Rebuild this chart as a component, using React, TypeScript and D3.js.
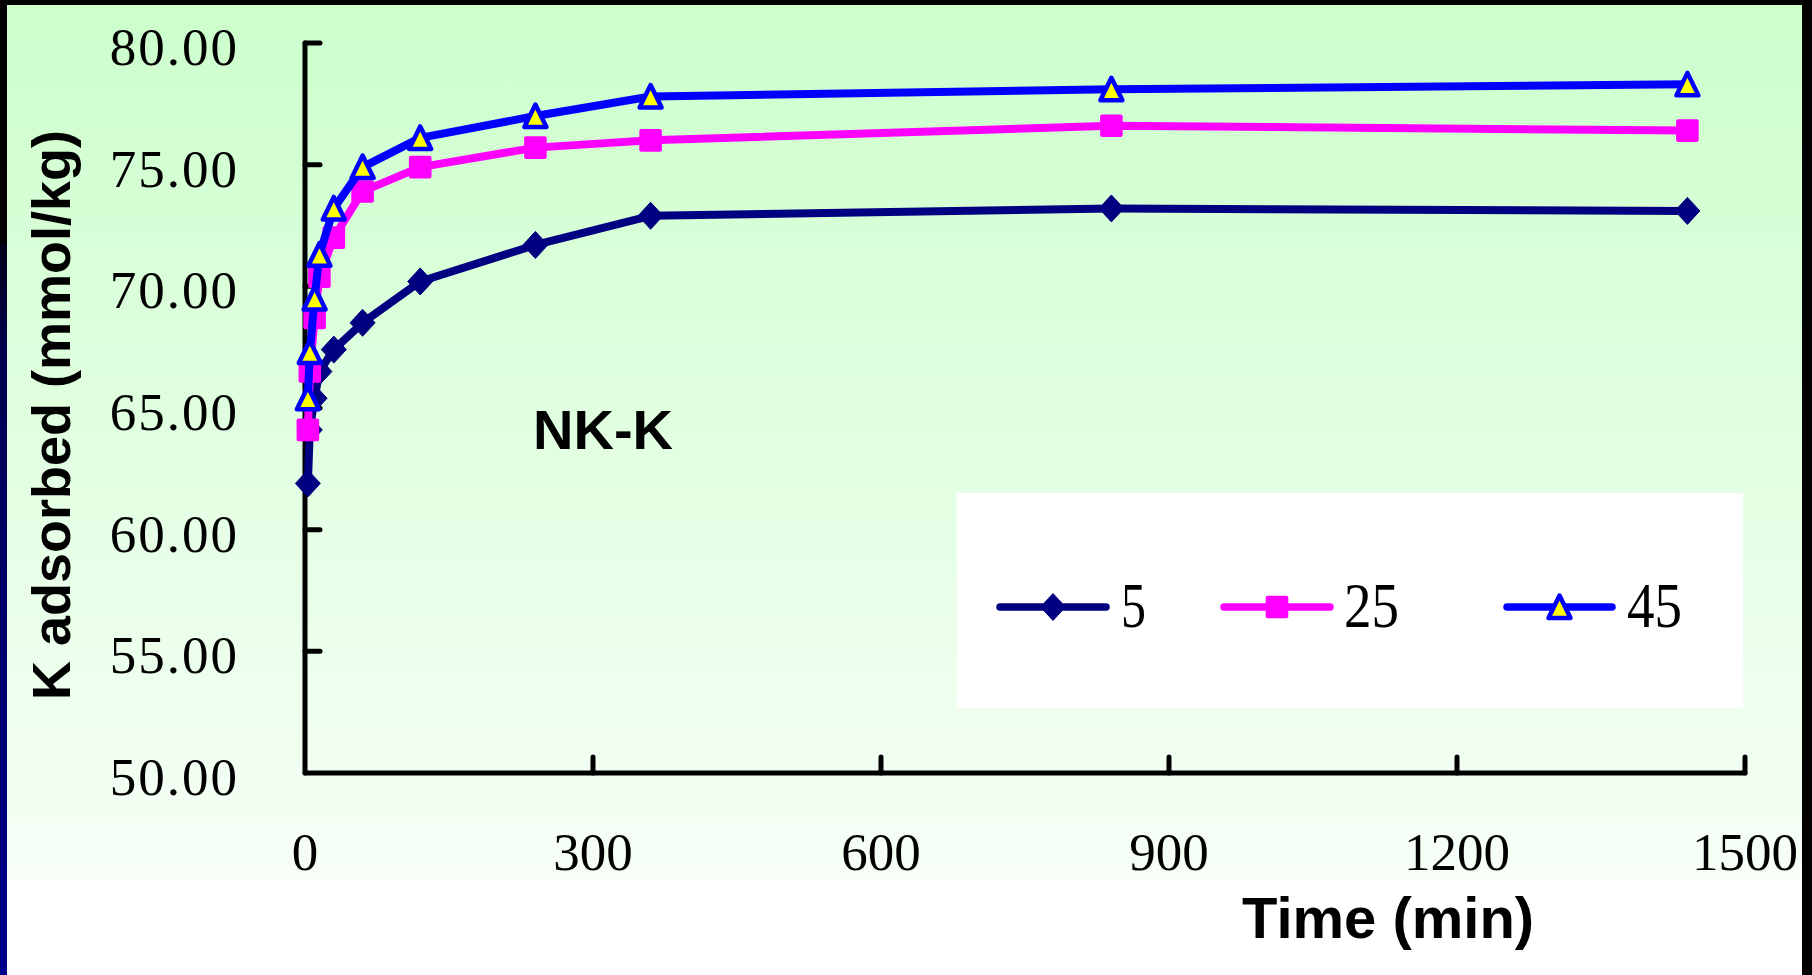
import React from 'react';
import * as d3 from 'd3';

// ---- data ----
const times = [3, 5, 10, 15, 30, 60, 120, 240, 360, 840, 1440];
const k5 = [61.9, 64.1, 65.4, 66.5, 67.4, 68.5, 70.2, 71.7, 72.9, 73.2, 73.1];
const k25 = [64.1, 66.5, 68.7, 70.4, 72.0, 73.9, 74.9, 75.7, 76.0, 76.6, 76.4];
const k45 = [65.4, 67.3, 69.5, 71.3, 73.2, 74.9, 76.1, 77.0, 77.8, 78.1, 78.3];
const seriesNames = ['5', '25', '45'];
const yTicks = [50, 55, 60, 65, 70, 75, 80];
const xTicks = [0, 300, 600, 900, 1200, 1500];

const NAVY = '#000080';
const MAGENTA = '#ff00ff';
const BLUE = '#0000ff';
const YELLOW = '#ffff00';

type Kind = 'diamond' | 'square' | 'triangle';

function Marker({ kind, cx, cy }: { kind: Kind; cx: number; cy: number }) {
  if (kind === 'diamond') {
    return <path d={`M${cx},${cy - 13.5}L${cx + 12.5},${cy}L${cx},${cy + 13.5}L${cx - 12.5},${cy}Z`} fill={NAVY} stroke={NAVY} strokeWidth={1} strokeLinejoin="round" />;
  }
  if (kind === 'square') {
    return <rect x={cx - 11.3} y={cy - 11.3} width={22.6} height={22.6} rx={2} fill={MAGENTA} />;
  }
  return (
    <path
      d={`M${cx},${cy - 11.5}L${cx + 11},${cy + 11}L${cx - 11},${cy + 11}Z`}
      fill={YELLOW}
      stroke={BLUE}
      strokeWidth={4.5}
      strokeLinejoin="round"
    />
  );
}

export default function App() {
  const W = 1812;
  const H = 975;
  const x = d3.scaleLinear().domain([0, 1500]).range([305, 1745]);
  const y = d3.scaleLinear().domain([50, 80]).range([773, 43]);
  const line = d3
    .line<[number, number]>()
    .x((d) => x(d[0]))
    .y((d) => y(d[1]));
  const fmt = d3.format('.2f');

  const series: { name: string; values: number[]; color: string; kind: Kind }[] = [
    { name: seriesNames[0], values: k5, color: NAVY, kind: 'diamond' },
    { name: seriesNames[1], values: k25, color: MAGENTA, kind: 'square' },
    { name: seriesNames[2], values: k45, color: BLUE, kind: 'triangle' },
  ];

  const legendItems = [
    { x0: 1000, x1: 1106, tx: 1121, tl: 25 },
    { x0: 1224, x1: 1330, tx: 1344, tl: 55 },
    { x0: 1507, x1: 1612, tx: 1627, tl: 55 },
  ];
  const legendY = 607;

  const serif = "'Liberation Serif', 'Times New Roman', serif";
  const sans = "'Liberation Sans', Arial, sans-serif";

  return (
    <svg
      width={W}
      height={H}
      viewBox={`0 0 ${W} ${H}`}
      style={{ position: 'absolute', left: 0, top: 0, display: 'block' }}
    >
      <defs>
        <linearGradient id="panelGrad" x1="0" y1="5" x2="0" y2="879" gradientUnits="userSpaceOnUse">
          <stop offset="0" stopColor="#ccffcc" />
          <stop offset="1" stopColor="#f7fff7" />
        </linearGradient>
        <linearGradient id="navyGrad" x1="0" y1="243" x2="0" y2="975" gradientUnits="userSpaceOnUse">
          <stop offset="0" stopColor="#000018" />
          <stop offset="0.15" stopColor="#000050" />
          <stop offset="1" stopColor="#00008c" />
        </linearGradient>
      </defs>

      {/* frame */}
      <rect x={0} y={0} width={W} height={H} fill="#ffffff" />
      <rect x={0} y={0} width={W} height={5} fill="#000000" />
      <rect x={1802} y={0} width={10} height={H} fill="#000000" />
      <rect x={0} y={0} width={7} height={243} fill="#000000" />
      <rect x={0} y={243} width={7} height={H - 243} fill="url(#navyGrad)" />
      <rect x={7} y={5} width={1795} height={874} fill="url(#panelGrad)" />

      {/* legend box */}
      <rect x={957} y={493} width={786} height={215} fill="#ffffff" />

      {/* axes */}
      <g stroke="#000" strokeWidth={5} strokeLinecap="round" fill="none">
        <line x1={x(0)} y1={y(80)} x2={x(0)} y2={y(50)} />
        <line x1={x(0)} y1={y(50)} x2={x(1500)} y2={y(50)} />
        {yTicks.filter((t) => t > 50).map((t) => (
          <line key={'yt' + t} x1={x(0)} y1={y(t)} x2={x(0) + 15} y2={y(t)} />
        ))}
        {xTicks.filter((t) => t > 0).map((t) => (
          <line key={'xt' + t} x1={x(t)} y1={y(50)} x2={x(t)} y2={y(50) - 16} />
        ))}
      </g>

      {/* tick labels */}
      <g fontFamily={serif} fontSize={53} fill="#000">
        {yTicks.map((t) => (
          <text key={'yl' + t} x={239} y={y(t) + 22} textAnchor="end" letterSpacing={2}>
            {fmt(t)}
          </text>
        ))}
        {xTicks.map((t) => (
          <text key={'xl' + t} x={x(t)} y={870} textAnchor="middle">
            {String(t)}
          </text>
        ))}
      </g>

      {/* series */}
      {series.map((s) => {
        const pts: [number, number][] = times.map((t, i) => [t, s.values[i]]);
        return (
          <g key={s.name}>
            <path
              d={line(pts) || ''}
              fill="none"
              stroke={s.color}
              strokeWidth={8}
              strokeLinejoin="round"
              strokeLinecap="round"
            />
            {pts.map((p, i) => (
              <Marker key={i} kind={s.kind} cx={x(p[0])} cy={y(p[1])} />
            ))}
          </g>
        );
      })}

      {/* legend items */}
      {series.map((s, i) => {
        const it = legendItems[i];
        return (
          <g key={'lg' + s.name}>
            <line x1={it.x0} y1={legendY} x2={it.x1} y2={legendY} stroke={s.color} strokeWidth={7.5} strokeLinecap="round" />
            <Marker kind={s.kind} cx={(it.x0 + it.x1) / 2} cy={legendY} />
            <text
              x={it.tx}
              y={legendY + 20}
              fontFamily={serif}
              fontSize={64}
              textLength={it.tl}
              lengthAdjust="spacingAndGlyphs"
              fill="#000"
            >
              {s.name}
            </text>
          </g>
        );
      })}

      {/* annotations & titles */}
      <text x={533} y={449} fontFamily={sans} fontWeight="bold" fontSize={56} fill="#000">
        NK-K
      </text>
      <text x={1242} y={938} fontFamily={sans} fontWeight="bold" fontSize={58} fill="#000">
        Time (min)
      </text>
      <text
        transform="translate(70,415) rotate(-90)"
        textAnchor="middle"
        fontFamily={sans}
        fontWeight="bold"
        fontSize={54}
        fill="#000"
      >
        K adsorbed (mmol/kg)
      </text>
    </svg>
  );
}
